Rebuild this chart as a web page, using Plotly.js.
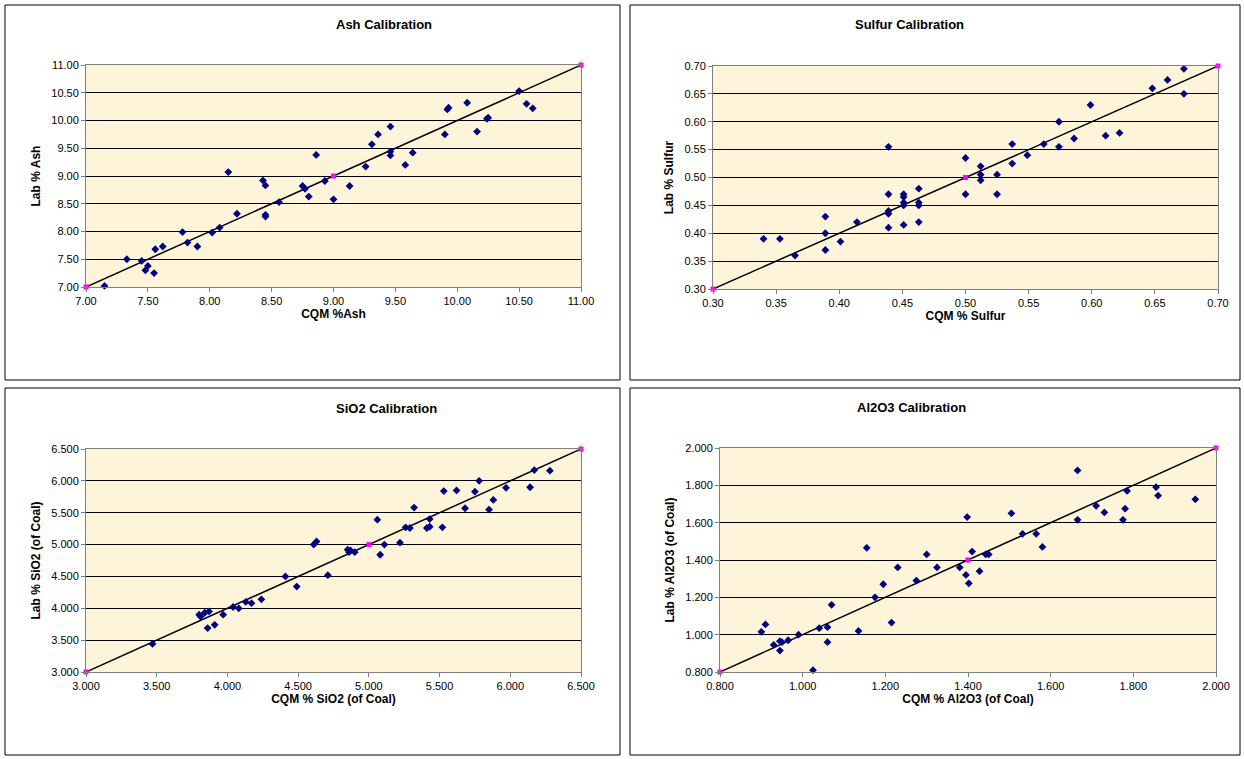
<!DOCTYPE html>
<html><head><meta charset="utf-8">
<script src="https://cdn.plot.ly/plotly-3.0.1.min.js"></script>
<style>body{margin:0;background:#fff}#c{width:1244px;height:759px}</style>
</head><body><div id="c"></div>
<script>
const ashX=[7.15,7.33,7.45,7.48,7.5,7.55,7.56,7.62,7.78,7.82,7.9,8.02,8.08,8.15,8.22,8.43,8.45,8.45,8.45,8.56,8.75,8.77,8.8,8.86,8.93,9.0,9.13,9.26,9.31,9.36,9.46,9.46,9.46,9.58,9.64,9.9,9.92,9.93,10.08,10.16,10.24,10.25,10.5,10.56,10.61];
const ashY=[7.02,7.5,7.47,7.3,7.38,7.25,7.68,7.73,7.99,7.8,7.73,7.98,8.07,9.07,8.32,8.92,8.83,8.3,8.27,8.53,8.82,8.77,8.63,9.38,8.91,8.58,8.82,9.17,9.57,9.75,9.89,9.44,9.37,9.2,9.42,9.75,10.2,10.23,10.32,9.8,10.03,10.05,10.53,10.3,10.22];
const sX=[0.34,0.353,0.365,0.389,0.389,0.389,0.401,0.414,0.439,0.439,0.439,0.439,0.439,0.451,0.451,0.451,0.451,0.451,0.463,0.463,0.463,0.463,0.5,0.5,0.512,0.512,0.512,0.525,0.525,0.537,0.537,0.549,0.562,0.574,0.574,0.586,0.599,0.611,0.622,0.648,0.66,0.673,0.673];
const sY=[0.39,0.39,0.36,0.43,0.40,0.37,0.385,0.42,0.555,0.47,0.44,0.435,0.41,0.47,0.465,0.455,0.45,0.415,0.48,0.455,0.45,0.42,0.535,0.47,0.52,0.505,0.495,0.505,0.47,0.56,0.525,0.54,0.56,0.6,0.555,0.57,0.63,0.575,0.58,0.66,0.675,0.695,0.65];
const siX=[3.47,3.8,3.81,3.84,3.86,3.87,3.91,3.97,4.04,4.08,4.13,4.17,4.24,4.41,4.49,4.61,4.63,4.71,4.85,4.86,4.87,4.9,5.06,5.08,5.11,5.22,5.26,5.29,5.32,5.41,5.43,5.43,5.52,5.53,5.62,5.68,5.75,5.78,5.85,5.88,5.97,6.14,6.17,6.28];
const siY=[3.44,3.9,3.87,3.93,3.69,3.95,3.74,3.9,4.02,4.0,4.1,4.08,4.14,4.5,4.34,5.0,5.05,4.52,4.92,4.88,4.91,4.88,5.39,4.84,5.0,5.03,5.27,5.26,5.58,5.26,5.4,5.28,5.27,5.84,5.85,5.57,5.83,6.0,5.55,5.7,5.89,5.9,6.17,6.16];
const alX=[0.9,0.91,0.93,0.945,0.945,0.95,0.965,0.99,1.025,1.04,1.06,1.06,1.07,1.135,1.155,1.175,1.195,1.215,1.23,1.275,1.3,1.325,1.38,1.395,1.398,1.402,1.41,1.428,1.443,1.45,1.505,1.532,1.565,1.58,1.665,1.665,1.71,1.73,1.775,1.78,1.785,1.855,1.86,1.95];
const alY=[1.015,1.055,0.945,0.915,0.965,0.96,0.97,1.0,0.81,1.035,1.04,0.96,1.16,1.02,1.465,1.2,1.27,1.065,1.36,1.29,1.43,1.36,1.36,1.32,1.63,1.275,1.445,1.34,1.43,1.43,1.65,1.54,1.54,1.47,1.88,1.615,1.69,1.655,1.615,1.675,1.77,1.79,1.745,1.725];
const ashRef=[7,9,11], sRef=[0.3,0.5,0.7], siRef=[3,5,6.5], alRef=[0.8,1.4,2.0];

const W=1244,H=759;
const panels=[
 {x:ashX,y:ashY,ref:ashRef,px:[86,581],py:[65,287],r:[7,11],dt:0.5,fmt:'.2f',t:'Ash Calibration',xt:'CQM %Ash',yt:'Lab % Ash'},
 {x:sX,y:sY,ref:sRef,px:[713,1218],py:[66,289],r:[0.3,0.7],dt:0.05,fmt:'.2f',t:'Sulfur Calibration',xt:'CQM % Sulfur',yt:'Lab % Sulfur'},
 {x:siX,y:siY,ref:siRef,px:[86,581],py:[449,672],r:[3,6.5],dt:0.5,fmt:'.3f',t:'SiO2 Calibration',xt:'CQM % SiO2 (of Coal)',yt:'Lab % SiO2 (of Coal)'},
 {x:alX,y:alY,ref:alRef,px:[720,1216],py:[448,672],r:[0.8,2.0],dt:0.2,fmt:'.3f',t:'Al2O3 Calibration',xt:'CQM % Al2O3 (of Coal)',yt:'Lab % Al2O3 (of Coal)'}
];
const boxes=[[5,5,620,380],[630,5,1240,380],[5,388,620,755],[630,388,1240,755]];
const data=[],layout={width:W,height:H,margin:{l:0,r:0,t:0,b:0},showlegend:false,paper_bgcolor:'#fff',plot_bgcolor:'#FDF4DA',
 font:{family:'Arial, Liberation Sans, sans-serif',size:11,color:'#000'},shapes:[],annotations:[]};
panels.forEach((p,i)=>{
 const n=i+1, xa='x'+(n>1?n:''), ya='y'+(n>1?n:'');
 data.push({x:p.ref,y:p.ref,xaxis:xa,yaxis:ya,mode:'lines+markers',cliponaxis:false,line:{color:'#000',width:1.5},marker:{color:'#FF00FF',symbol:'square',size:5}});
 data.push({x:p.x,y:p.y,xaxis:xa,yaxis:ya,mode:'markers',cliponaxis:false,marker:{color:'#000080',symbol:'diamond',size:6}});
 const ax={domain:[p.px[0]/W,p.px[1]/W],range:p.r,dtick:p.dt,tick0:p.r[0],tickformat:p.fmt,showgrid:false,zeroline:false,showline:true,linecolor:'#808080',mirror:true,ticks:'outside',ticklen:4,tickcolor:'#808080',anchor:ya,
   title:{text:'<b>'+p.xt+'</b>',font:{size:12},standoff:1}};
 const ay={domain:[1-p.py[1]/H,1-p.py[0]/H],range:p.r,dtick:p.dt,tick0:p.r[0],tickformat:p.fmt,showgrid:true,gridcolor:'#000',gridwidth:1,zeroline:false,showline:true,linecolor:'#808080',mirror:true,ticks:'outside',ticklen:4,tickcolor:'#808080',anchor:xa,
   title:{text:'<b>'+p.yt+'</b>',font:{size:12},standoff:8}};
 layout['xaxis'+(n>1?n:'')]=ax; layout['yaxis'+(n>1?n:'')]=ay;
 const b=boxes[i];
 layout.shapes.push({type:'rect',xref:'paper',yref:'paper',x0:b[0]/W,x1:b[2]/W,y0:1-b[3]/H,y1:1-b[1]/H,line:{color:'#000',width:1}});
 layout.annotations.push({xref:'paper',yref:'paper',x:(p.px[0]+p.px[1])/2/W,y:1-(p.py[0]-41)/H,yanchor:'middle',showarrow:false,text:'<b>'+p.t+'</b>',font:{size:13}});
});
Plotly.newPlot('c',data,layout,{displayModeBar:false,staticPlot:true});
</script></body></html>
